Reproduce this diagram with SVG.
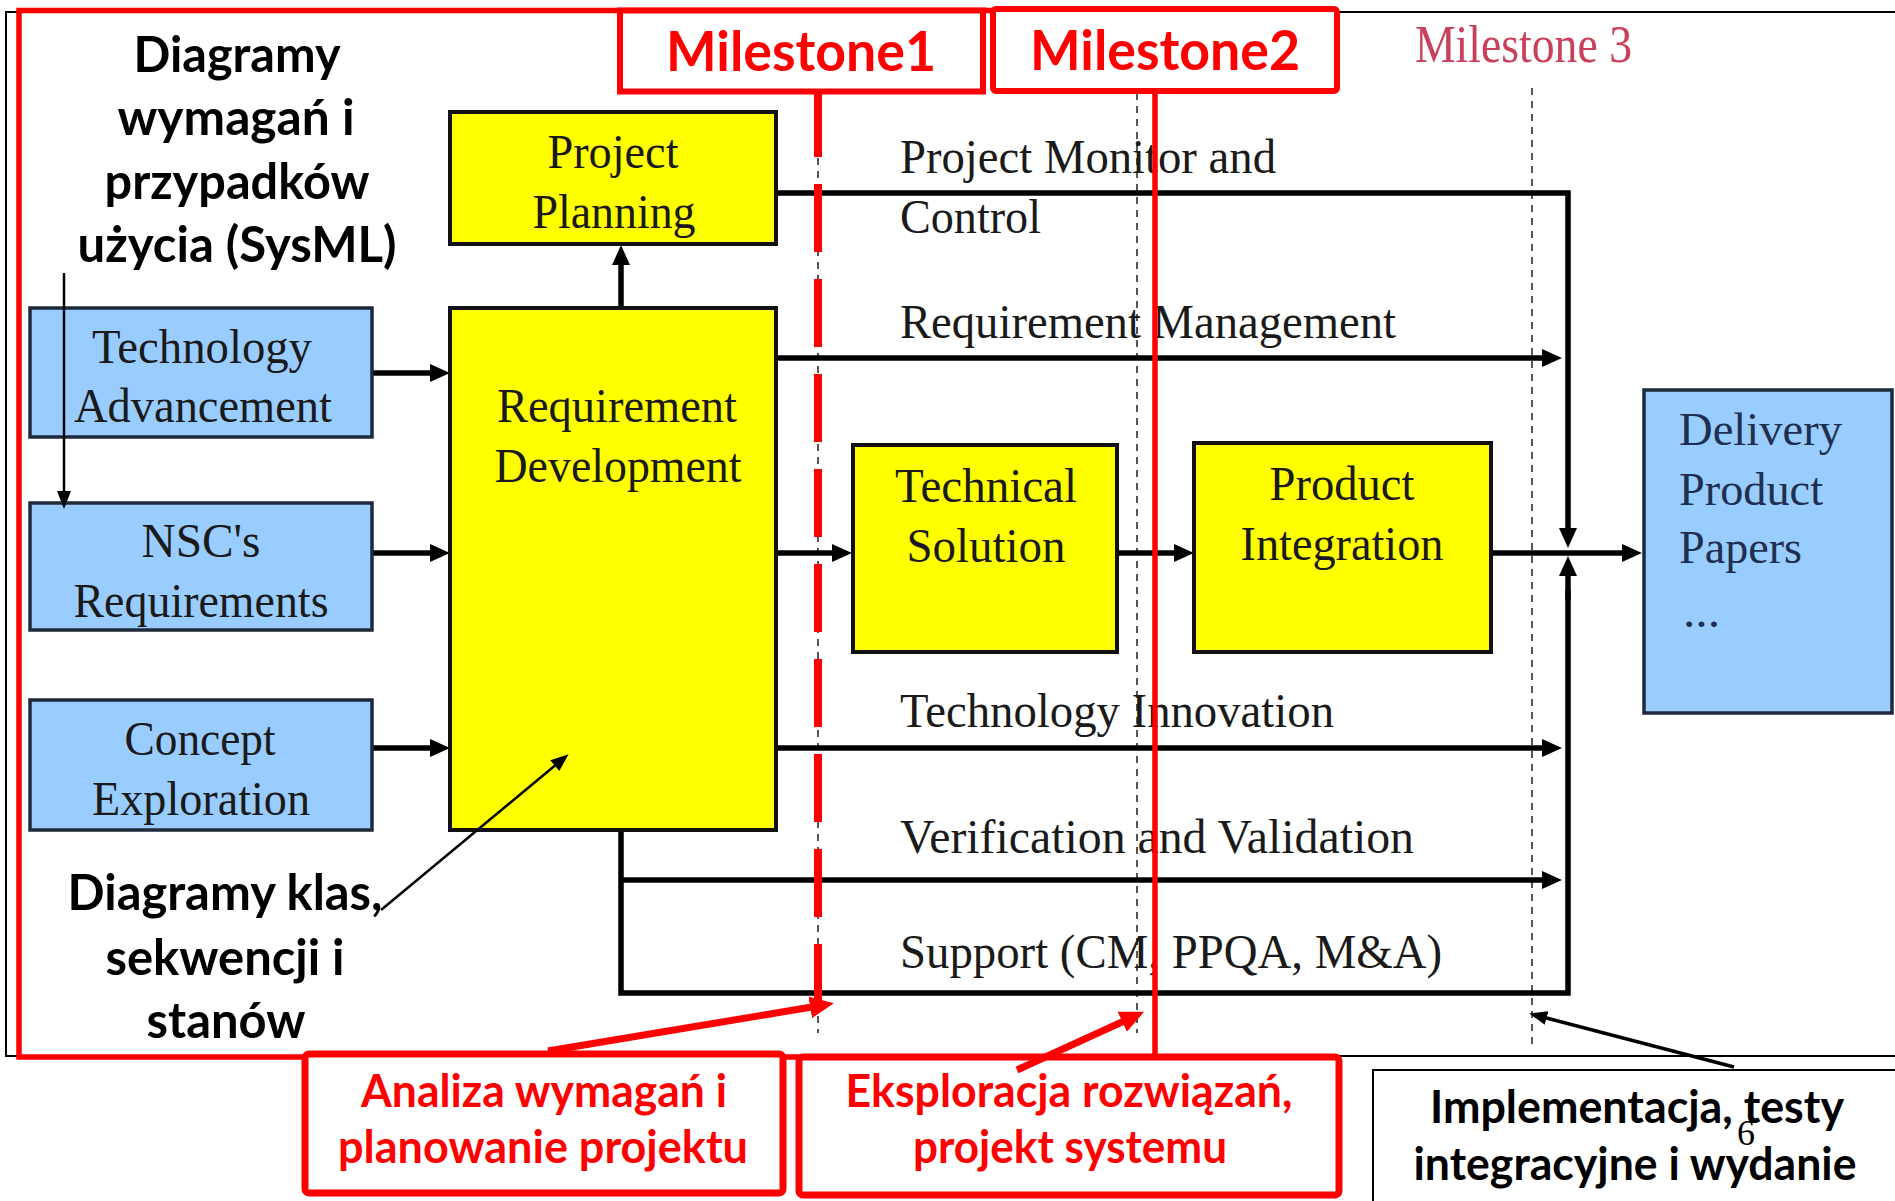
<svg xmlns="http://www.w3.org/2000/svg" width="1895" height="1201" viewBox="0 0 1895 1201">
  <style>
    .serif { font-family: "Liberation Serif", "Times New Roman", serif; font-size: 48px; fill: #1a1a1a; }
    .navy { fill: #1f2f4f; font-size: 46px; }
    .sans { font-family: Lato, "Liberation Sans", sans-serif; font-weight: 700; }
    .note { font-size: 50px; fill: #000; }
    .lbl { font-size: 46px; }
    .ms { font-size: 56px; fill: #ff0000; }
    .redtxt { fill: #ff0000; }
    .yellow { fill: #ffff00; stroke: #111; stroke-width: 4; }
    .blue { fill: #99ccff; stroke: #1e2a3a; stroke-width: 3.5; }
    .flow { fill: none; stroke: #000; stroke-width: 5.5; marker-end: url(#ah); }
    .flow2 { fill: none; stroke: #000; stroke-width: 5.5; }
    .mdash { stroke: #555; stroke-width: 2; stroke-dasharray: 7 6; fill: none; }
    .thin { fill: none; stroke: #000; stroke-width: 2.5; marker-end: url(#ahThin); }
    .redbox { fill: #fff; stroke: #ff0000; stroke-width: 7; }
    .redarrow { fill: none; stroke: #ff0000; stroke-width: 7; marker-end: url(#ahRed); }
  </style>
  <defs>
    <marker id="ah" viewBox="0 0 20 18" refX="10" refY="9" markerWidth="20" markerHeight="18" markerUnits="userSpaceOnUse" orient="auto">
      <path d="M0,0 L20,9 L0,18 z" fill="#000"/>
    </marker>
    <marker id="ahThin" viewBox="0 0 18 14" refX="12" refY="7" markerWidth="18" markerHeight="14" markerUnits="userSpaceOnUse" orient="auto">
      <path d="M0,0 L18,7 L0,14 z" fill="#000"/>
    </marker>
    <marker id="ahRed" viewBox="0 0 24 22" refX="14" refY="11" markerWidth="24" markerHeight="22" markerUnits="userSpaceOnUse" orient="auto">
      <path d="M0,0 L24,11 L0,22 z" fill="#ff0000"/>
    </marker>
  </defs>

  <rect width="1895" height="1201" fill="#fff"/>

  <!-- outer slide frame -->
  <rect x="6" y="12" width="1900" height="1044" fill="none" stroke="#000" stroke-width="2"/>

  <!-- milestone guide lines -->
  <g id="milestone-lines">
    <line class="mdash" x1="818" y1="93" x2="818" y2="1033"/>
    <line class="mdash" x1="1137" y1="93" x2="1137" y2="1033"/>
    <line class="mdash" x1="1532" y1="88" x2="1532" y2="1047"/>
    <text id="milestone3" class="serif" x="1415" y="62" style="fill:#c8405a;font-size:52px" textLength="217" lengthAdjust="spacingAndGlyphs">Milestone 3</text>
  </g>

  <!-- process flows -->
  <g id="connectors">
    <path class="flow" d="M621,308 V255"/>
    <path class="flow" d="M372,373 H440"/>
    <path class="flow" d="M372,553 H440"/>
    <path class="flow" d="M372,748 H440"/>
    <path class="flow" d="M776,193 H1568 V538"/>
    <path class="flow" d="M776,358 H1552"/>
    <path class="flow" d="M776,553 H842"/>
    <path class="flow" d="M1117,553 H1184"/>
    <path class="flow" d="M1491,553 H1632"/>
    <path class="flow" d="M776,748 H1552"/>
    <path class="flow" d="M621,880 H1552"/>
    <path class="flow2" d="M621,830 V993 H1568 V590"/>
    <path class="flow" d="M1568,600 V566"/>
    <text class="serif" x="900" y="173" textLength="376" lengthAdjust="spacingAndGlyphs">Project Monitor and</text>
    <text class="serif" x="900" y="233" textLength="141" lengthAdjust="spacingAndGlyphs">Control</text>
    <text class="serif" x="900" y="338" textLength="496" lengthAdjust="spacingAndGlyphs">Requirement Management</text>
    <text class="serif" x="900" y="727" textLength="434" lengthAdjust="spacingAndGlyphs">Technology Innovation</text>
    <text class="serif" x="900" y="853" textLength="514" lengthAdjust="spacingAndGlyphs">Verification and Validation</text>
    <text class="serif" x="900" y="968" textLength="542" lengthAdjust="spacingAndGlyphs">Support (CM, PPQA, M&amp;A)</text>
  </g>

  <!-- process boxes -->
  <g id="project-planning">
    <rect class="yellow" x="450" y="112" width="326" height="132"/>
    <text class="serif" x="613" y="168" text-anchor="middle" textLength="131" lengthAdjust="spacingAndGlyphs">Project</text>
    <text class="serif" x="614" y="228" text-anchor="middle" textLength="163" lengthAdjust="spacingAndGlyphs">Planning</text>
  </g>
  <g id="requirement-development">
    <rect class="yellow" x="450" y="308" width="326" height="522"/>
    <text class="serif" x="617" y="422" text-anchor="middle" textLength="240" lengthAdjust="spacingAndGlyphs">Requirement</text>
    <text class="serif" x="618" y="482" text-anchor="middle" textLength="247" lengthAdjust="spacingAndGlyphs">Development</text>
  </g>
  <g id="technology-advancement">
    <rect class="blue" x="30" y="308" width="342" height="129"/>
    <text class="serif" x="202" y="363" text-anchor="middle" textLength="220" lengthAdjust="spacingAndGlyphs">Technology</text>
    <text class="serif" x="203" y="422" text-anchor="middle" textLength="258" lengthAdjust="spacingAndGlyphs">Advancement</text>
  </g>
  <g id="nsc-requirements">
    <rect class="blue" x="30" y="503" width="342" height="127"/>
    <text class="serif" x="201" y="557" text-anchor="middle" textLength="119" lengthAdjust="spacingAndGlyphs">NSC's</text>
    <text class="serif" x="201" y="617" text-anchor="middle" textLength="255" lengthAdjust="spacingAndGlyphs">Requirements</text>
  </g>
  <g id="concept-exploration">
    <rect class="blue" x="30" y="700" width="342" height="130"/>
    <text class="serif" x="200" y="755" text-anchor="middle" textLength="151" lengthAdjust="spacingAndGlyphs">Concept</text>
    <text class="serif" x="201" y="815" text-anchor="middle" textLength="218" lengthAdjust="spacingAndGlyphs">Exploration</text>
  </g>
  <g id="technical-solution">
    <rect class="yellow" x="853" y="445" width="264" height="207"/>
    <text class="serif" x="986" y="502" text-anchor="middle" textLength="182" lengthAdjust="spacingAndGlyphs">Technical</text>
    <text class="serif" x="986" y="562" text-anchor="middle" textLength="159" lengthAdjust="spacingAndGlyphs">Solution</text>
  </g>
  <g id="product-integration">
    <rect class="yellow" x="1194" y="443" width="297" height="209"/>
    <text class="serif" x="1342" y="500" text-anchor="middle" textLength="145" lengthAdjust="spacingAndGlyphs">Product</text>
    <text class="serif" x="1342" y="560" text-anchor="middle" textLength="203" lengthAdjust="spacingAndGlyphs">Integration</text>
  </g>
  <g id="delivery">
    <rect class="blue" x="1644" y="390" width="248" height="323"/>
    <text class="serif navy" x="1679" y="445" textLength="163" lengthAdjust="spacingAndGlyphs">Delivery</text>
    <text class="serif navy" x="1679" y="505" textLength="144" lengthAdjust="spacingAndGlyphs">Product</text>
    <text class="serif navy" x="1679" y="563" textLength="123" lengthAdjust="spacingAndGlyphs">Papers</text>
    <text class="serif navy" x="1683" y="627" textLength="37" lengthAdjust="spacingAndGlyphs">...</text>
  </g>

  <!-- phase frame and milestone markers -->
  <g id="phase-frame">
    <rect x="19" y="10.5" width="1136" height="1046.5" fill="none" stroke="#ff0000" stroke-width="5.5"/>
    <line x1="818" y1="89" x2="818" y2="1003" stroke="#ff0000" stroke-width="8" stroke-dasharray="68 27"/>
  </g>
  <g id="milestone1">
    <rect class="redbox" x="620" y="10.5" width="363" height="81" style="stroke-width:6"/>
    <text class="sans ms" x="801" y="71" text-anchor="middle" textLength="270" lengthAdjust="spacingAndGlyphs">Milestone1</text>
  </g>
  <g id="milestone2">
    <rect class="redbox" x="993" y="9" width="344" height="82" rx="3" style="stroke-width:6"/>
    <text class="sans ms" x="1165" y="70" text-anchor="middle" textLength="270" lengthAdjust="spacingAndGlyphs">Milestone2</text>
  </g>

  <!-- annotations -->
  <g id="note-requirements">
    <text class="sans note" x="237" y="72" text-anchor="middle" textLength="207" lengthAdjust="spacingAndGlyphs">Diagramy</text>
    <text class="sans note" x="236" y="135" text-anchor="middle" textLength="237" lengthAdjust="spacingAndGlyphs">wymagań i</text>
    <text class="sans note" x="237" y="199" text-anchor="middle" textLength="265" lengthAdjust="spacingAndGlyphs">przypadków</text>
    <text class="sans note" x="237" y="262" text-anchor="middle" textLength="319" lengthAdjust="spacingAndGlyphs">użycia (SysML)</text>
    <path class="thin" d="M64,273 V503"/>
  </g>
  <g id="note-class-diagrams">
    <text class="sans note" x="225" y="910" text-anchor="middle" textLength="315" lengthAdjust="spacingAndGlyphs">Diagramy klas,</text>
    <text class="sans note" x="225" y="975" text-anchor="middle" textLength="239" lengthAdjust="spacingAndGlyphs">sekwencji i</text>
    <text class="sans note" x="226" y="1038" text-anchor="middle" textLength="159" lengthAdjust="spacingAndGlyphs">stanów</text>
    <path class="thin" d="M381,910 L564,758"/>
  </g>
  <g id="phase-analysis">
    <rect class="redbox" x="305" y="1054" width="478" height="139" rx="4"/>
    <text class="sans lbl redtxt" x="544" y="1107" text-anchor="middle" textLength="366" lengthAdjust="spacingAndGlyphs">Analiza wymagań i</text>
    <text class="sans lbl redtxt" x="543" y="1163" text-anchor="middle" textLength="410" lengthAdjust="spacingAndGlyphs">planowanie projektu</text>
    <path class="redarrow" d="M548,1051 L824,1005"/>
  </g>
  <g id="phase-design">
    <rect class="redbox" x="799" y="1057" width="540" height="138" rx="4"/>
    <text class="sans lbl redtxt" x="1069" y="1107" text-anchor="middle" textLength="447" lengthAdjust="spacingAndGlyphs">Eksploracja rozwiązań,</text>
    <text class="sans lbl redtxt" x="1070" y="1163" text-anchor="middle" textLength="314" lengthAdjust="spacingAndGlyphs">projekt systemu</text>
    <path class="redarrow" d="M1017,1070 L1135,1016"/>
  </g>
  <g id="phase-implementation">
    <rect x="1373" y="1070" width="540" height="150" fill="#fff" stroke="#000" stroke-width="2"/>
    <text class="sans lbl" x="1637" y="1123" text-anchor="middle" textLength="414" lengthAdjust="spacingAndGlyphs">Implementacja, testy</text>
    <text class="sans lbl" x="1635" y="1180" text-anchor="middle" textLength="443" lengthAdjust="spacingAndGlyphs">integracyjne i wydanie</text>
    <text x="1737" y="1145" font-family="Liberation Serif, serif" font-size="36" fill="#000">6</text>
    <path d="M1734,1067 L1535,1015" fill="none" stroke="#000" stroke-width="3.5" marker-end="url(#ahThin)"/>
  </g>
</svg>
